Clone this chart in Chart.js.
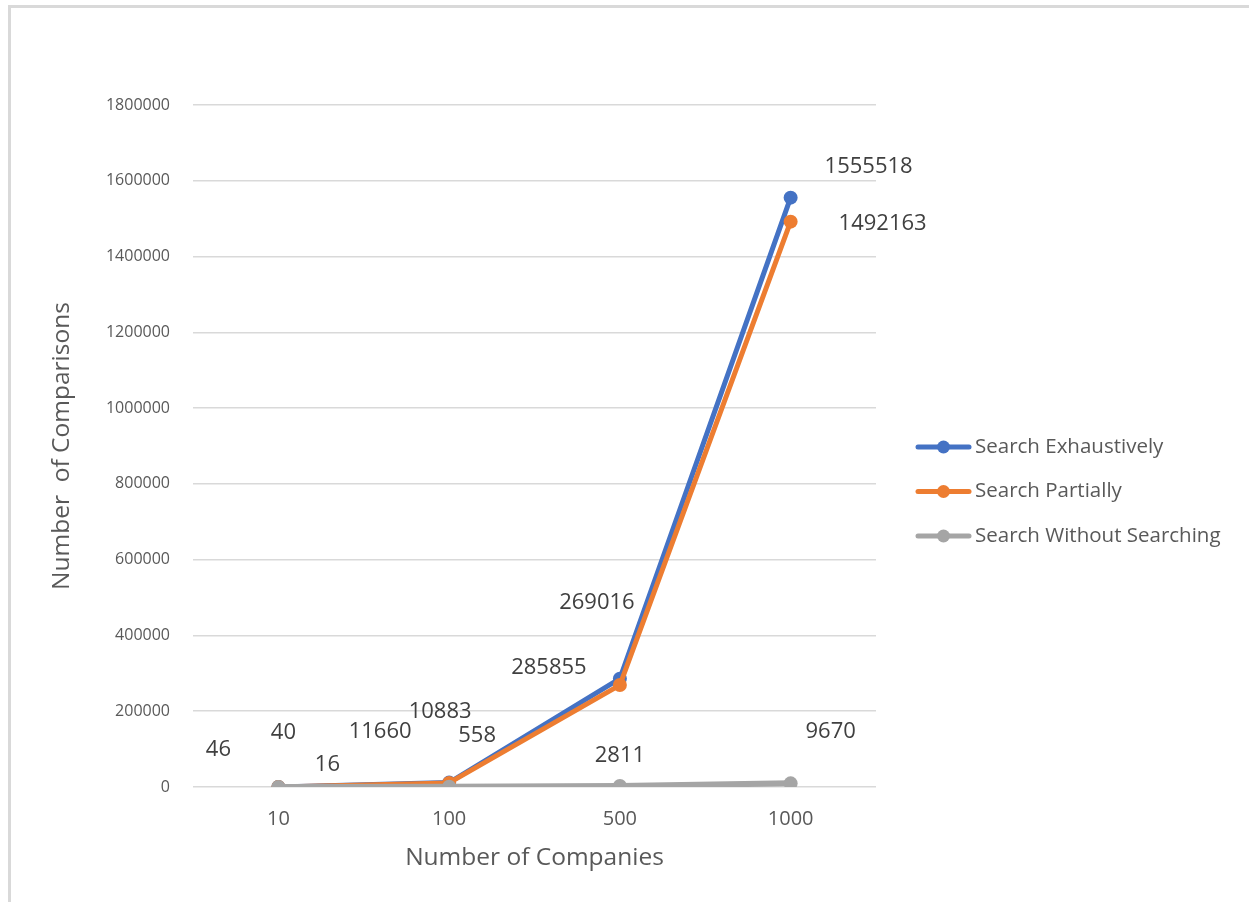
<!DOCTYPE html>
<html>
<head>
<meta charset="utf-8">
<script src="https://cdn.jsdelivr.net/npm/chart.js@4"></script>
<style>
  html,body{margin:0;padding:0;background:#fff;}
  #wrap{position:absolute;left:0;top:0;width:1249px;height:902px;}
  #frame{position:absolute;left:8px;top:5px;width:1260px;height:920px;border-top:3px solid #d9d9d9;border-left:3px solid #d9d9d9;pointer-events:none;}
</style>
</head>
<body>
<div id="wrap">
  <canvas id="chart" width="1249" height="902"></canvas>
  <div id="frame"></div>
</div>
<script>
const categories = ['10', '100', '500', '1000'];
const exhaustive = [46, 11660, 285855, 1555518];
const partially = [40, 10883, 269016, 1492163];
const without = [16, 558, 2811, 9670];
const seriesNames = ['Search Exhaustively', 'Search Partially', 'Search Without Searching'];
const colors = ['#4472C4', '#ED7D31', '#A5A5A5'];

// where each value label sits relative to its point (px)
const labelOffsets = [
  [[-60,-37],[-69,-51],[-71,-11],[78,-31]],
  [[5,-54],[-9,-71],[-23,-82],[92,2]],
  [[49,-22],[28,-51],[0,-30],[40,-52]]
];

const FONT = '"Open Sans", "Liberation Sans", sans-serif';

const valueLabels = {
  id: 'valueLabels',
  afterDatasetsDraw(chart) {
    const ctx = chart.ctx;
    ctx.save();
    ctx.font = '22px ' + FONT;
    ctx.fillStyle = '#404040';
    ctx.textAlign = 'center';
    ctx.textBaseline = 'middle';
    chart.data.datasets.forEach((ds, i) => {
      const meta = chart.getDatasetMeta(i);
      meta.data.forEach((pt, j) => {
        const o = labelOffsets[i][j];
        ctx.fillText(String(ds.data[j]), pt.x + o[0], pt.y + o[1]);
      });
    });
    ctx.restore();
  }
};

const sideLegend = {
  id: 'sideLegend',
  afterDraw(chart) {
    const ctx = chart.ctx;
    ctx.save();
    ctx.font = '20.5px ' + FONT;
    ctx.textBaseline = 'middle';
    ctx.textAlign = 'left';
    seriesNames.forEach((name, i) => {
      const y = 447 + i * 44.5;
      ctx.strokeStyle = colors[i];
      ctx.lineWidth = 5;
      ctx.lineCap = 'round';
      ctx.beginPath(); ctx.moveTo(918, y); ctx.lineTo(969, y); ctx.stroke();
      ctx.fillStyle = colors[i];
      ctx.beginPath(); ctx.arc(943.5, y, 6.5, 0, Math.PI * 2); ctx.fill();
      ctx.fillStyle = '#595959';
      ctx.fillText(name, 975, y);
    });
    ctx.restore();
  }
};

const mk = (i, data, order, w) => ({
  label: seriesNames[i], data, order,
  borderColor: colors[i], backgroundColor: colors[i],
  borderWidth: w, pointRadius: 7, pointHoverRadius: 7,
  pointBorderWidth: 0, tension: 0
});

new Chart(document.getElementById('chart'), {
  type: 'line',
  data: {
    labels: categories,
    datasets: [mk(0, exhaustive, 3, 5), mk(1, partially, 2, 5), mk(2, without, 1, 6)]
  },
  options: {
    responsive: false,
    animation: false,
    layout: { padding: { left: 0, right: 373, top: 105, bottom: 0 } },
    plugins: { legend: { display: false }, tooltip: { enabled: false } },
    scales: {
      x: {
        offset: true,
        grid: { display: false, drawTicks: false },
        border: { display: false },
        ticks: { color: '#595959', font: { family: FONT, size: 20 }, padding: 20 },
        title: { display: true, text: 'Number of Companies', color: '#595959', font: { family: FONT, size: 24.5 }, padding: { top: 0, bottom: 29 } },
        afterFit: s => { s.height = 115; }
      },
      y: {
        min: 0, max: 1800000,
        ticks: { stepSize: 200000, color: '#595959', font: { family: FONT, size: 16 }, padding: 23, callback: v => String(v) },
        grid: { color: '#d9d9d9', lineWidth: 1.5, drawTicks: false },
        border: { display: false },
        title: { display: true, text: 'Number  of Comparisons', color: '#595959', font: { family: FONT, size: 24.5 }, padding: { top: 47, bottom: 0 } },
        afterFit: s => { s.width = 193; }
      }
    }
  },
  plugins: [valueLabels, sideLegend]
});
</script>
</body>
</html>
